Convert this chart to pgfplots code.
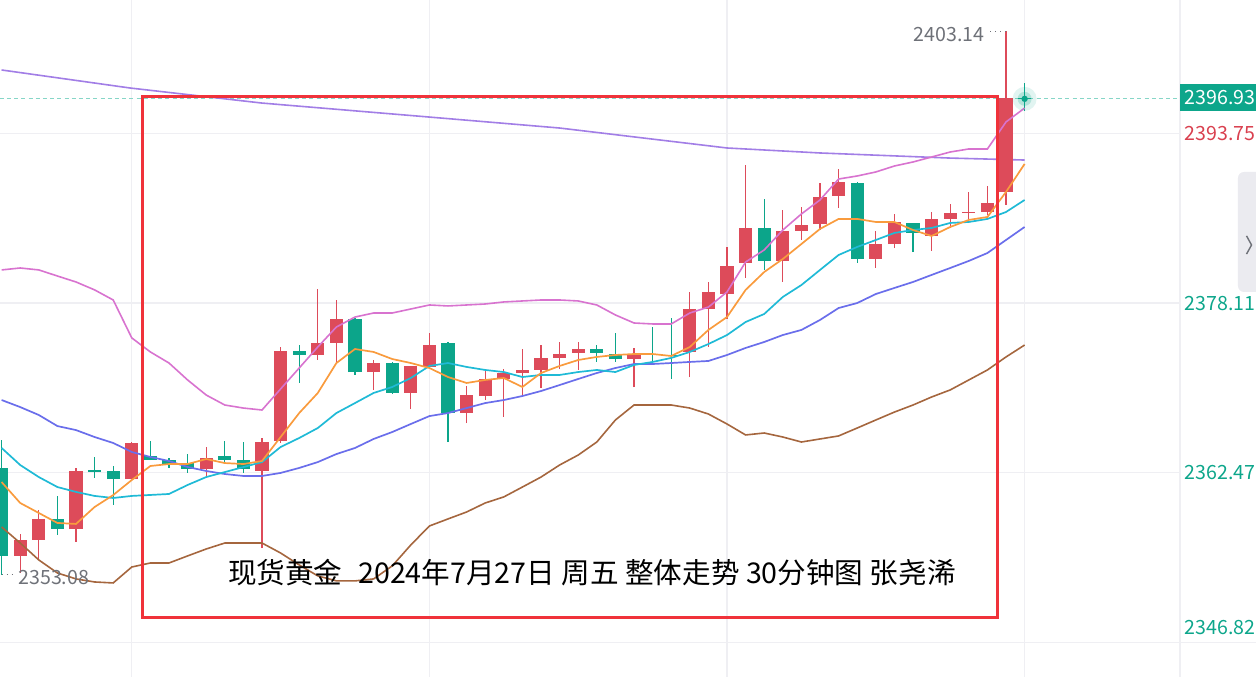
\documentclass[border=0pt]{standalone}
\usepackage{fontspec}
\setmainfont{Noto Sans CJK SC}
\usepackage{pgfplots}
\usepackage{pgfplotstable}
\pgfplotsset{compat=1.18}
\definecolor{upc}{HTML}{DD4B5A}
\definecolor{dnc}{HTML}{0CA58A}
\definecolor{ma5c}{HTML}{F99B3D}
\definecolor{ma10c}{HTML}{1FBAD6}
\definecolor{ma20c}{HTML}{6A6EEB}
\definecolor{bupc}{HTML}{D873CF}
\definecolor{bdnc}{HTML}{A5663E}
\definecolor{purc}{HTML}{A27EE6}
\definecolor{rectc}{HTML}{F0323A}
\definecolor{grayt}{HTML}{6E7178}
\definecolor{gridc}{HTML}{EFEFF3}
\definecolor{tealc}{HTML}{0DA68B}
\definecolor{redl}{HTML}{D9404F}
\definecolor{dashc}{HTML}{86D6C7}
\definecolor{btnc}{HTML}{EBEBF0}
\newcommand\lab{\fontsize{9.8pt}{11pt}\selectfont}

\pgfplotstableread{
k o h l c
1 2354.80 2356.82 2353.23 2356.27
2 2356.27 2359.04 2354.43 2358.21
4 2357.28 2362.91 2356.09 2362.63
7 2361.89 2365.30 2361.89 2365.21
11 2362.81 2364.84 2362.17 2363.83
14 2362.63 2365.67 2355.53 2365.30
15 2365.40 2374.06 2365.21 2373.69
17 2373.32 2379.40 2372.86 2374.43
18 2374.43 2378.39 2372.58 2376.64
20 2371.75 2372.86 2370.10 2372.58
22 2369.82 2372.31 2368.34 2372.31
23 2372.22 2375.35 2372.03 2374.24
25 2367.98 2370.46 2367.05 2369.63
26 2369.54 2372.03 2369.17 2371.11
27 2371.11 2372.03 2367.61 2371.66
28 2371.66 2373.87 2369.45 2371.94
29 2371.94 2374.24 2370.28 2373.05
30 2373.05 2374.52 2372.03 2373.41
31 2373.51 2374.52 2371.94 2373.87
34 2372.95 2373.97 2370.37 2373.41
37 2373.60 2379.13 2371.29 2377.56
38 2377.56 2380.05 2374.06 2379.13
39 2378.94 2383.28 2376.64 2381.52
40 2381.80 2390.83 2380.42 2385.03
42 2381.99 2386.69 2380.05 2384.75
43 2384.75 2386.96 2383.92 2385.30
44 2385.40 2389.17 2384.84 2387.88
45 2387.98 2390.46 2386.87 2389.27
47 2382.17 2384.75 2381.34 2383.55
48 2383.55 2386.32 2383.18 2385.58
50 2384.29 2386.50 2382.91 2385.86
51 2385.86 2387.24 2385.03 2386.41
52 2386.41 2388.34 2385.67 2386.50
53 2386.50 2388.90 2386.22 2387.33
54 2388.34 2403.14 2387.15 2397.05
}\upcandles

\pgfplotstableread{
k o h l c
0 2362.91 2365.49 2353.08 2354.80
3 2358.21 2360.33 2356.73 2357.28
5 2362.68 2363.92 2361.99 2362.58
6 2362.63 2363.09 2359.50 2361.89
8 2364.01 2365.40 2363.64 2363.64
9 2363.64 2363.83 2362.91 2363.18
10 2363.37 2364.20 2362.45 2362.81
12 2364.01 2365.40 2363.46 2363.64
13 2363.64 2365.30 2362.45 2362.81
16 2373.69 2374.24 2370.74 2373.32
19 2376.64 2376.73 2371.48 2371.75
21 2372.58 2372.68 2369.73 2369.82
24 2374.43 2374.52 2365.30 2367.98
32 2373.87 2374.24 2372.68 2373.51
33 2373.41 2375.35 2372.68 2372.95
35 2373.41 2375.90 2372.68 2373.32
36 2373.32 2376.73 2371.11 2373.23
41 2385.03 2387.70 2381.16 2381.99
46 2389.17 2389.27 2381.80 2382.17
49 2385.49 2385.49 2382.81 2384.57
55 2397.05 2398.39 2395.81 2396.93
}\dncandles

\pgfplotstableread{
k ma5 ma10 ma20 bup bdn
0 2361.61 2364.75 2369.17 2381.16 2357.47
1 2359.68 2363.18 2368.52 2381.34 2355.99
2 2358.76 2362.07 2367.79 2381.16 2354.43
3 2357.84 2361.15 2366.77 2380.60 2353.23
4 2357.75 2360.70 2366.40 2380.05 2352.68
5 2359.31 2360.33 2365.76 2379.32 2352.40
6 2360.41 2360.14 2365.21 2378.39 2352.31
7 2361.80 2360.33 2364.38 2374.89 2353.78
8 2363.09 2360.42 2363.92 2373.60 2354.15
9 2363.27 2360.51 2363.55 2372.58 2354.15
10 2363.27 2361.34 2363.00 2371.02 2354.80
11 2363.73 2362.07 2362.63 2369.63 2355.44
12 2363.36 2362.53 2362.35 2368.71 2355.99
13 2363.27 2362.99 2362.17 2368.43 2355.99
14 2363.55 2363.45 2362.17 2368.25 2355.99
15 2365.76 2364.84 2362.45 2370.19 2355.07
16 2367.97 2365.67 2362.91 2372.12 2353.97
17 2369.82 2366.59 2363.45 2374.06 2352.96
18 2372.58 2367.97 2364.19 2375.90 2352.50
19 2373.87 2368.89 2364.75 2376.82 2352.50
20 2373.60 2369.82 2365.58 2377.19 2352.68
21 2372.95 2370.37 2366.22 2377.19 2353.88
22 2372.58 2371.20 2366.96 2377.56 2355.81
23 2372.12 2372.31 2367.69 2377.93 2357.56
24 2371.29 2372.58 2367.97 2377.84 2358.21
25 2370.74 2372.22 2368.43 2377.93 2358.85
26 2371.02 2371.94 2368.89 2378.02 2359.68
27 2371.20 2371.75 2369.17 2378.21 2360.24
28 2370.37 2371.29 2369.54 2378.30 2361.15
29 2371.66 2371.48 2370.00 2378.39 2362.07
30 2372.31 2371.48 2370.55 2378.39 2363.18
31 2372.86 2371.75 2371.11 2378.30 2364.10
32 2373.14 2371.94 2371.66 2377.93 2365.30
33 2373.32 2371.75 2372.12 2377.01 2367.33
34 2373.41 2372.40 2372.49 2376.27 2368.71
35 2373.41 2372.68 2372.49 2376.18 2368.71
36 2373.23 2373.05 2372.58 2376.18 2368.71
37 2374.06 2373.60 2372.68 2377.19 2368.43
38 2375.63 2374.33 2372.77 2377.74 2367.88
39 2376.82 2375.16 2373.32 2379.13 2366.96
40 2379.32 2376.36 2373.97 2381.89 2365.95
41 2380.97 2377.10 2374.52 2383.00 2366.13
42 2382.17 2378.67 2375.16 2384.84 2365.76
43 2383.55 2379.77 2375.63 2386.32 2365.30
44 2384.94 2381.16 2376.55 2387.61 2365.58
45 2385.86 2382.54 2377.65 2389.54 2365.86
46 2385.86 2383.28 2378.11 2389.82 2366.59
47 2385.58 2383.92 2378.94 2390.19 2367.33
48 2385.58 2384.57 2379.50 2390.74 2368.06
49 2384.84 2384.84 2380.05 2391.11 2368.71
50 2384.29 2385.03 2380.70 2391.57 2369.45
51 2385.12 2385.49 2381.34 2392.03 2370.10
52 2385.77 2385.58 2381.99 2392.31 2371.02
53 2386.04 2385.86 2382.72 2392.31 2371.94
54 2388.35 2386.50 2383.92 2394.80 2373.14
55 2390.93 2387.61 2385.12 2396.08 2374.24
}\malines

\pgfplotstableread{
k p
0 2399.59
6.9 2397.93
14 2396.54
23 2395.25
30 2394.24
39 2392.40
44 2391.94
51 2391.47
55 2391.29
}\longma

\begin{document}
\begin{tikzpicture}
\path[use as bounding box] (0,0) rectangle (628pt,338.5pt);
\begin{axis}[at={(0,0)}, anchor=south west, scale only axis,
  width=628pt, height=338.5pt,
  xmin=-0.086, xmax=67.44, ymin=2343.64, ymax=2406.04,
  hide axis, clip=true,
  candle/.style={draw=none, mark=none, forget plot,
    error bars/.cd, y dir=plus, y explicit, error mark=none}]

% grid
\draw[gridc, line width=0.6pt] (axis cs:-0.1,2393.75) -- (axis cs:63.35,2393.75);
\draw[gridc, line width=0.6pt] (axis cs:-0.1,2378.11) -- (axis cs:63.35,2378.11);
\draw[gridc, line width=0.6pt] (axis cs:-0.1,2362.47) -- (axis cs:63.35,2362.47);
\draw[gridc, line width=0.6pt] (axis cs:-0.1,2346.82) -- (axis cs:67.6,2346.82);
\foreach \gx in {7,23,39,55} {
  \edef\tmp{\noexpand\draw[gridc, line width=0.6pt] (axis cs:\gx,2343.64) -- (axis cs:\gx,2406.04);}\tmp
}
\draw[gridc, line width=0.8pt] (axis cs:63.35,2343.64) -- (axis cs:63.35,2406.04);

% current price dashed line
\addplot[dashc, line width=0.55pt, dash pattern=on 2pt off 1.6pt] coordinates {(-0.1,2396.93) (63.35,2396.93)};

% long MA
\addplot[purc, line width=0.8pt] table[x=k, y=p] {\longma};

% candles: wicks
\addplot[candle, error bar style={line width=0.65pt, draw=upc}]
  table[x=k, y=l, y error expr=\thisrow{h}-\thisrow{l}] {\upcandles};
\addplot[candle, error bar style={line width=0.65pt, draw=dnc}]
  table[x=k, y=l, y error expr=\thisrow{h}-\thisrow{l}] {\dncandles};
% candles: bodies
\addplot[candle, error bar style={line width=6.6pt, line cap=butt, draw=upc}]
  table[x=k, y=o, y error expr=\thisrow{c}-\thisrow{o}] {\upcandles};
\addplot[candle, error bar style={line width=6.6pt, line cap=butt, draw=dnc}]
  table[x=k, y=c, y error expr=\thisrow{o}-\thisrow{c}] {\dncandles};

% indicator lines
\addplot[bdnc, line width=0.8pt] table[x=k, y=bdn] {\malines};
\addplot[bupc, line width=0.8pt] table[x=k, y=bup] {\malines};
\addplot[ma20c, line width=0.85pt] table[x=k, y=ma20] {\malines};
\addplot[ma10c, line width=0.85pt] table[x=k, y=ma10] {\malines};
\addplot[ma5c, line width=0.85pt] table[x=k, y=ma5] {\malines};

% glow at current price
\addplot[only marks, color=dnc, mark=*, mark size=6pt, mark options={fill=dnc, draw opacity=0, fill opacity=0.12}] coordinates {(55,2396.93)};
\addplot[only marks, color=dnc, mark=*, mark size=3.5pt, mark options={fill=dnc, draw opacity=0, fill opacity=0.22}] coordinates {(55,2396.93)};
\addplot[only marks, color=dnc, mark=*, mark size=1.6pt, mark options={fill=dnc, draw opacity=0}] coordinates {(55,2396.93)};

% red frame
\draw[rectc, line width=1.5pt] (axis cs:7.60,2349.17) rectangle (axis cs:53.52,2397.10);

% title text
\node[font=\fontsize{14.3pt}{17pt}\selectfont, text=black, inner sep=0pt]
  at (axis cs:31.74,2353.25) {现货黄金\hspace{0.55em}2024年7月27日 周五 整体走势 30分钟图 张尧浠};

% extreme labels
\node[anchor=east, inner sep=0pt, font=\lab, text=grayt] at (axis cs:52.87,2402.9) {2403.14};
\draw[grayt, line width=0.5pt, dotted] (axis cs:53.15,2403.14) -- (axis cs:54.0,2403.14);
\node[anchor=west, inner sep=0pt, font=\lab, text=grayt] at (axis cs:0.88,2352.77) {2353.08};
\draw[grayt, line width=0.5pt, dotted] (axis cs:0.0,2353.08) -- (axis cs:0.75,2353.08);

% right price scale
\fill[tealc] (axis cs:63.35,2395.81) rectangle (axis cs:67.6,2398.30);
\node[font=\lab, text=white, inner sep=0pt] at (axis cs:65.5,2397.05) {2396.93};
\node[font=\lab, text=redl, inner sep=0pt] at (axis cs:65.5,2393.75) {2393.75};
\node[font=\lab, text=tealc, inner sep=0pt] at (axis cs:65.5,2378.11) {2378.11};
\node[font=\lab, text=tealc, inner sep=0pt] at (axis cs:65.5,2362.47) {2362.47};
\node[font=\lab, text=tealc, inner sep=0pt] at (axis cs:65.5,2348.16) {2346.82};

% scroll button
\fill[btnc, rounded corners=3pt] (axis cs:66.47,2379.13) rectangle (axis cs:67.9,2390.19);
\draw[grayt, line width=0.7pt] (axis cs:66.93,2384.3) -- (axis cs:67.2,2383.46) -- (axis cs:66.93,2382.62);
\end{axis}
\end{tikzpicture}
\end{document}
